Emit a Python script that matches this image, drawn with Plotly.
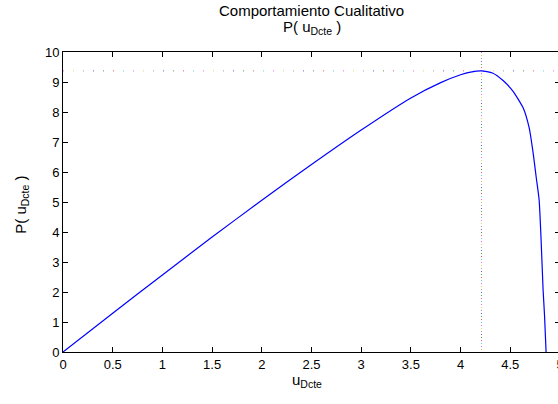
import plotly.graph_objects as go

# Qualitative power curve P(u_Dcte)
u_dcte = [0.0, 0.5, 1.0, 1.5, 2.0, 2.5, 3.0, 3.5, 3.8, 4.0, 4.1, 4.21,
          4.32, 4.43, 4.53, 4.63, 4.69, 4.73, 4.76, 4.79, 4.81, 4.83, 4.845, 4.86]
p_vals = [0.0, 1.29, 2.57, 3.83, 5.06, 6.25, 7.40, 8.47, 8.98, 9.24, 9.33, 9.37,
          9.30, 9.04, 8.68, 8.13, 7.47, 6.63, 5.84, 5.07, 3.73, 2.07, 1.18, 0.0]

# Maximum power point
u_max = 4.21
p_max = 9.37

x_ticks = [0, 0.5, 1, 1.5, 2, 2.5, 3, 3.5, 4, 4.5, 5]
x_tick_text = ["0", "0.5", "1", "1.5", "2", "2.5", "3", "3.5", "4", "4.5", "5"]
y_ticks = [0, 1, 2, 3, 4, 5, 6, 7, 8, 9, 10]

FONT = "Liberation Sans, Arial, sans-serif"
DOT_COLORS = ["#e070e0", "#d8d860", "#a0a0a0", "#6060e0", "#50a050", "#e06060", "#60d0d0"]

fig = go.Figure()

# Dotted guide lines through the maximum, drawn as interleaved coloured dots
n = len(DOT_COLORS)
for i, c in enumerate(DOT_COLORS):
    hs, vs = 10, 3
    fig.add_trace(go.Scatter(
        x=[0, 5], y=[p_max, p_max], mode="lines",
        line=dict(color=c, width=1,
                  dash=f"0px,{hs * i}px,1px,{hs * n - hs * i - 1}px"),
        hoverinfo="skip", showlegend=False))
    fig.add_trace(go.Scatter(
        x=[u_max, u_max], y=[10, 0], mode="lines",
        line=dict(color=c, width=1,
                  dash=f"0px,{vs * i}px,1px,{vs * n - vs * i - 1}px"),
        hoverinfo="skip", showlegend=False))

fig.add_trace(go.Scatter(
    x=u_dcte, y=p_vals, mode="lines",
    line=dict(color="#0000ff", width=1.2, shape="spline", smoothing=0.5),
    showlegend=False))

axis_common = dict(
    showgrid=False, zeroline=False, showline=True, linecolor="black",
    linewidth=1, mirror="ticks", ticks="inside", ticklen=5, tickcolor="black",
    tickfont=dict(family=FONT, size=13, color="black"),
)

fig.update_xaxes(range=[0, 5], tickvals=x_ticks, ticktext=x_tick_text, **axis_common)
fig.update_yaxes(range=[0, 10], tickvals=y_ticks, **axis_common)

annotations = [
    dict(text="Comportamiento Cualitativo", x=0.5, y=1.14, xref="paper", yref="paper",
         showarrow=False, font=dict(family=FONT, size=15, color="black"),
         xanchor="center", yanchor="middle"),
    dict(text="P( u<sub>Dcte</sub> )", x=0.5, y=1.08, xref="paper", yref="paper",
         showarrow=False, font=dict(family=FONT, size=15, color="black"),
         xanchor="center", yanchor="middle"),
    dict(text="u<sub>Dcte</sub>", x=0.49, y=-0.095, xref="paper", yref="paper",
         showarrow=False, font=dict(family=FONT, size=15, color="black"),
         xanchor="center", yanchor="middle"),
    dict(text="P( u<sub>Dcte</sub> )", x=-0.085, y=0.49, xref="paper", yref="paper",
         showarrow=False, textangle=-90, font=dict(family=FONT, size=15, color="black"),
         xanchor="center", yanchor="middle"),
]

fig.update_layout(
    width=576, height=404,
    margin=dict(l=63, r=16, t=52, b=52),
    paper_bgcolor="white", plot_bgcolor="white",
    annotations=annotations,
)

fig.write_html(
    "out.html",
    post_script="document.documentElement.style.overflow='hidden';document.body.style.overflow='hidden';",
)
